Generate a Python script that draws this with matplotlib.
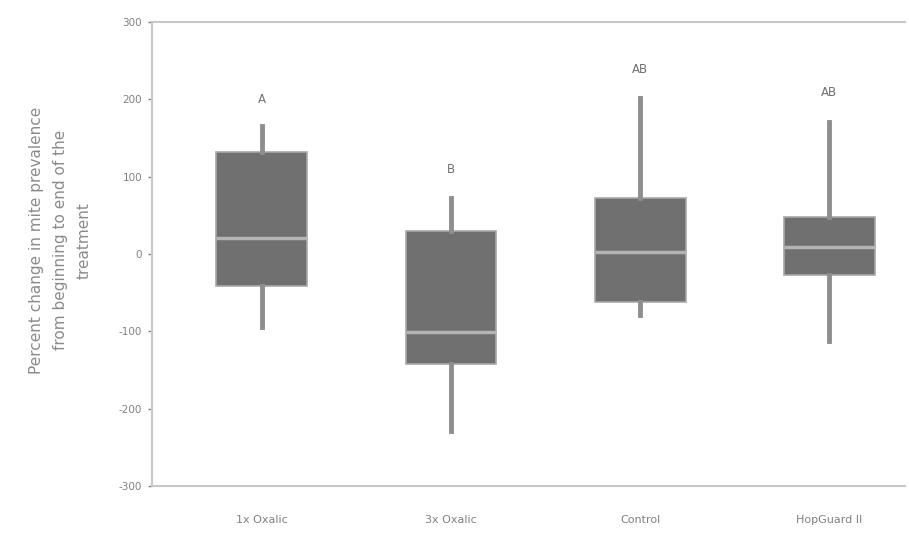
import matplotlib
matplotlib.use("Agg")
from matplotlib import pyplot as plt

# box summaries
groups = ["1x Oxalic", "3x Oxalic", "Control", "HopGuard II"]
whis_lo = [-95, -229, -79, -112]
q1 = [-42, -142, -62, -27]
med = [21, -101, 3, 9]
q3 = [132, 30, 73, 48]
whis_hi = [165, 73, 202, 171]
letters = ["A", "B", "AB", "AB"]
letter_y = [200, 109, 239, 209]
yticks = [-300, -200, -100, 0, 100, 200, 300]

stats = []
for i in range(len(groups)):
    stats.append({"label": groups[i], "whislo": whis_lo[i], "q1": q1[i],
                  "med": med[i], "q3": q3[i], "whishi": whis_hi[i]})

fig = plt.figure(figsize=(9.09, 5.34), dpi=100)
fig.patch.set_facecolor("white")
ax = fig.add_axes([0.1672, 0.0899, 0.8284, 0.8689])

pos = [1, 2, 3, 4]
ax.bxp(stats, positions=pos, widths=0.48, showfliers=False, showcaps=False,
       patch_artist=True,
       boxprops=dict(facecolor="#707070", edgecolor="#a8a8a8", linewidth=1.2),
       medianprops=dict(color="#b4b4b4", linewidth=2.5),
       whiskerprops=dict(color="#8e8e8e", linewidth=3.5))

for x, t, y in zip(pos, letters, letter_y):
    ax.text(x, y, t, ha="center", va="center", fontsize=8.5, color="#707070")

ax.set_xlim(0.42, 4.4)
ax.set_ylim(-300, 300)
ax.set_yticks(yticks)
ax.set_yticklabels([str(v) for v in yticks])
ax.tick_params(axis="y", labelsize=7.5, colors="#808080", length=3, width=1, pad=4)
ax.tick_params(axis="x", labelsize=8, colors="#808080", length=0, pad=21)
for s in ["top", "bottom", "left"]:
    ax.spines[s].set_color("#c8c8c8")
    ax.spines[s].set_linewidth(1.5)
ax.spines["right"].set_visible(False)

ax.set_ylabel("Percent change in mite prevalence\nfrom beginning to end of the\ntreatment",
              fontsize=11, color="#8a8a8a", linespacing=1.75)
ax.yaxis.set_label_coords(-0.08, 0.53)

fig.savefig("out.png", dpi=100)
